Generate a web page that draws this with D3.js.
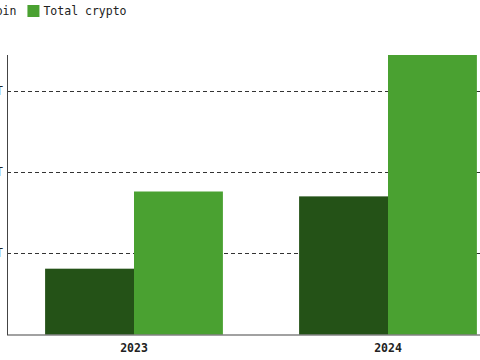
<!DOCTYPE html>
<html><head><meta charset="utf-8">
<script src="https://cdn.jsdelivr.net/npm/d3@7"></script>
<style>html,body{margin:0;padding:0;background:#fff;overflow:hidden}</style>
</head><body>
<svg id="c" width="480" height="360"></svg>
<script>
const years = ["2023", "2024"];
const seriesNames = ["Bitcoin", "Total crypto"];
const bitcoin = [0.81, 1.70];
const totalCrypto = [1.76, 3.44];
const yTicks = [1, 2, 3];
const yTickLabels = ["$1T", "$2T", "$3T"];
const colors = ["#245217", "#4aa131"];

const svg = d3.select("#c");
const font = "'DejaVu Sans Mono', 'Liberation Mono', monospace";
const x0 = 7, yBase = 334.5;
const x = d3.scaleBand().domain(years).range([x0, 515]).paddingInner(0.3).paddingOuter(0.15);
const xs = d3.scaleBand().domain(seriesNames).range([0, x.bandwidth()]);
const y = d3.scaleLinear().domain([0, 3.44]).range([yBase, 55]);

// grid
svg.append("g").selectAll("line").data(yTicks).join("line")
  .attr("x1", x0).attr("x2", 480)
  .attr("y1", d => Math.round(y(d)) + 0.5).attr("y2", d => Math.round(y(d)) + 0.5)
  .attr("stroke", "#333").attr("stroke-dasharray", "4,3");

// y labels (clipped at left)
svg.append("g").selectAll("text").data(yTicks).join("text")
  .attr("x", 3).attr("y", d => y(d)).attr("dy", "0.35em")
  .attr("text-anchor", "end").attr("font-family", font).attr("font-size", 11.5).attr("fill", "#222")
  .text((d, i) => yTickLabels[i]);

const data = years.map((yr, i) => ({yr, vals: [bitcoin[i], totalCrypto[i]]}));
const g = svg.append("g").selectAll("g").data(data).join("g")
  .attr("transform", d => `translate(${x(d.yr)},0)`);
g.selectAll("rect").data(d => d.vals.map((v, j) => ({v, s: seriesNames[j], j}))).join("rect")
  .attr("x", d => xs(d.s)).attr("width", xs.bandwidth())
  .attr("y", d => y(d.v)).attr("height", d => y(0) - y(d.v))
  .attr("fill", d => colors[d.j]);

// axes
svg.append("line").attr("x1", x0 + 0.5).attr("x2", x0 + 0.5).attr("y1", 55).attr("y2", yBase + 0.5)
  .attr("stroke", "#444").attr("stroke-width", 1);
svg.append("line").attr("x1", x0).attr("x2", 480).attr("y1", yBase + 0.5).attr("y2", yBase + 0.5)
  .attr("stroke", "#444").attr("stroke-width", 1.2);

svg.append("g").selectAll("text").data(years).join("text")
  .attr("x", d => x(d) + x.bandwidth() / 2).attr("y", 352)
  .attr("text-anchor", "middle").attr("font-family", font).attr("font-size", 11.5)
  .attr("font-weight", "bold").attr("fill", "#222").text(d => d);

// legend (partly clipped)
const leg = svg.append("g").attr("transform", "translate(-48,5)");
let lx = 0;
seriesNames.forEach((s, i) => {
  leg.append("rect").attr("x", lx).attr("y", 0).attr("width", 12).attr("height", 12).attr("fill", colors[i]);
  const t = leg.append("text").attr("x", lx + 16).attr("y", 10).attr("font-family", font)
    .attr("font-size", 11.5).attr("fill", "#222").text(s);
  lx += 16 + s.length * 6.92 + 11;
});
</script>
</body></html>
